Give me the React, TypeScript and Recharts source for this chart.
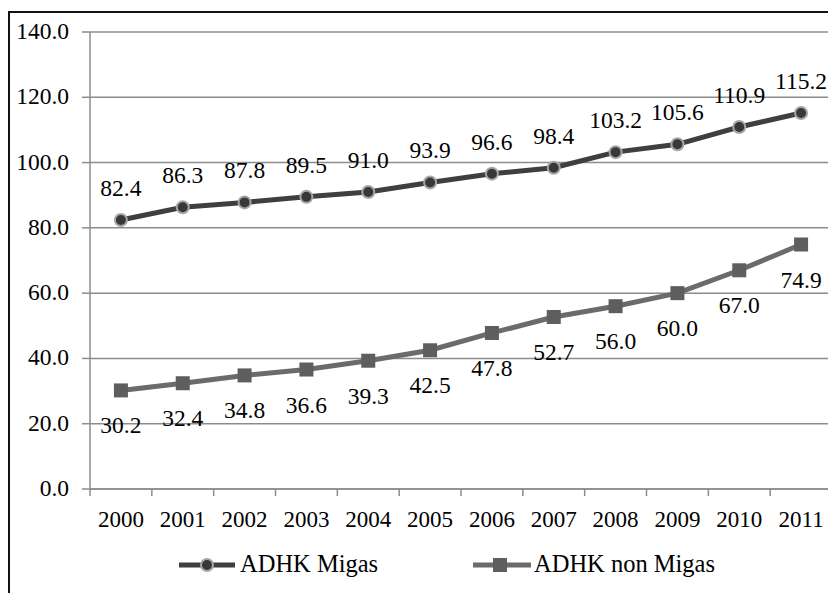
import React from "react";
import {
  LineChart,
  Line,
  XAxis,
  YAxis,
  CartesianGrid,
  LabelList,
} from "recharts";

// ADHK per tahun, 2000-2011
const years = ["2000", "2001", "2002", "2003", "2004", "2005", "2006", "2007", "2008", "2009", "2010", "2011"];
const migas = [82.4, 86.3, 87.8, 89.5, 91.0, 93.9, 96.6, 98.4, 103.2, 105.6, 110.9, 115.2];
const nonMigas = [30.2, 32.4, 34.8, 36.6, 39.3, 42.5, 47.8, 52.7, 56.0, 60.0, 67.0, 74.9];
const yTicks = [0, 20, 40, 60, 80, 100, 120, 140];

const data = years.map((year, i) => ({ year, migas: migas[i], nonMigas: nonMigas[i] }));

const WIDTH = 836;
const HEIGHT = 601;
const PLOT_LEFT = 90;
const PLOT_RIGHT = 832;
const STEP = (PLOT_RIGHT - PLOT_LEFT) / years.length;

const FONT = "Liberation Serif";
const GRID = "#8c8c8c";
const MIGAS_LINE = "#3f3f3f";
const MIGAS_DOT = "#383838";
const MIGAS_RING = "#a6a6a6";
const NON_LINE = "#6b6b6b";
const NON_DOT = "#5e5e5e";

// Excel-style category axis: tick marks sit between the years
const YearTick = (props: any) => {
  const { x, y, payload, index } = props;
  const last = index === years.length - 1;
  return (
    <g>
      <line x1={x - STEP / 2} x2={x - STEP / 2} y1={y - 7} y2={y} stroke={GRID} strokeWidth={1.5} />
      {last && <line x1={x + STEP / 2} x2={x + STEP / 2} y1={y - 7} y2={y} stroke={GRID} strokeWidth={1.5} />}
      <text x={x} y={y + 31} textAnchor="middle" fontFamily={FONT} fontSize={23} fill="#000">
        {payload.value}
      </text>
    </g>
  );
};

const SquareDot = (props: any) => {
  const { cx, cy, index } = props;
  return <rect key={`sq-${index}`} x={cx - 7} y={cy - 7} width={14} height={14} fill={NON_DOT} />;
};

const fmt = (v: any) => Number(v).toFixed(1);

// value labels drawn as plain svg text so the font is set directly
const valueLabel = (place: "above" | "below") => (props: any) => {
  const { x, y, width, value, index } = props;
  const cx = x + (width || 0) / 2;
  const ty = place === "above" ? y - 24 : y + 43;
  return (
    <text key={`${place}-${index}`} x={cx} y={ty} textAnchor="middle" fontFamily={FONT} fontSize={23.5} fill="#000">
      {fmt(value)}
    </text>
  );
};

const YValueTick = (props: any) => {
  const { x, y, payload } = props;
  return (
    <text x={x} y={y + 7} textAnchor="end" fontFamily={FONT} fontSize={23.5} fill="#000">
      {fmt(payload.value)}
    </text>
  );
};

const LegendBlock = () => (
  <div style={{ position: "absolute", left: 0, top: 548, width: WIDTH, height: 34, fontFamily: FONT, fontSize: 24.5 }}>
    <svg width={60} height={34} style={{ position: "absolute", left: 177, top: 0 }}>
      <line x1={2} x2={58} y1={17} y2={17} stroke={MIGAS_LINE} strokeWidth={5} />
      <circle cx={30} cy={17} r={6} fill={MIGAS_DOT} stroke={MIGAS_RING} strokeWidth={2} />
    </svg>
    <span style={{ position: "absolute", left: 240, top: 2, lineHeight: "28px" }}>ADHK Migas</span>
    <svg width={60} height={34} style={{ position: "absolute", left: 472, top: 0 }}>
      <line x1={1} x2={59} y1={17} y2={17} stroke={NON_LINE} strokeWidth={5} />
      <rect x={21} y={10} width={14} height={14} fill={NON_DOT} />
    </svg>
    <span style={{ position: "absolute", left: 534, top: 2, lineHeight: "28px" }}>ADHK non Migas</span>
  </div>
);

export default function App() {
  return (
    <div
      style={{
        position: "relative",
        margin: -8,
        width: WIDTH,
        height: HEIGHT,
        overflow: "hidden",
        background: "#fff",
        fontFamily: FONT,
      }}
    >
      <div
        style={{
          position: "absolute",
          left: 8,
          top: 11,
          width: 900,
          height: 700,
          border: "2px solid #111",
        }}
      />
      <div style={{ position: "absolute", left: 0, top: 0 }}>
        <LineChart
          width={WIDTH}
          height={HEIGHT}
          data={data}
          margin={{ top: 32, right: WIDTH - PLOT_RIGHT, bottom: 52, left: 0 }}
        >
          <CartesianGrid vertical={false} stroke={GRID} strokeWidth={1.5} />
          <XAxis
            dataKey="year"
            scale="point"
            padding={{ left: STEP / 2, right: STEP / 2 }}
            height={60}
            tickLine={false}
            tickSize={7}
            tickMargin={0}
            axisLine={{ stroke: GRID, strokeWidth: 1.5 }}
            tick={<YearTick />}
            interval={0}
          />
          <YAxis
            width={PLOT_LEFT}
            domain={[0, 140]}
            ticks={yTicks}
            tickSize={8}
            tickMargin={13}
            axisLine={{ stroke: GRID, strokeWidth: 1.5 }}
            tickLine={{ stroke: GRID, strokeWidth: 1.5 }}
            tick={<YValueTick />}
          />
          <Line
            dataKey="migas"
            name="ADHK Migas"
            stroke={MIGAS_LINE}
            strokeWidth={5}
            dot={{ r: 6, fill: MIGAS_DOT, stroke: MIGAS_RING, strokeWidth: 2 }}
            isAnimationActive={false}
          >
            <LabelList dataKey="migas" content={valueLabel("above")} />
          </Line>
          <Line
            dataKey="nonMigas"
            name="ADHK non Migas"
            stroke={NON_LINE}
            strokeWidth={5}
            dot={<SquareDot />}
            isAnimationActive={false}
          >
            <LabelList dataKey="nonMigas" content={valueLabel("below")} />
          </Line>
        </LineChart>
      </div>
      <LegendBlock />
    </div>
  );
}
